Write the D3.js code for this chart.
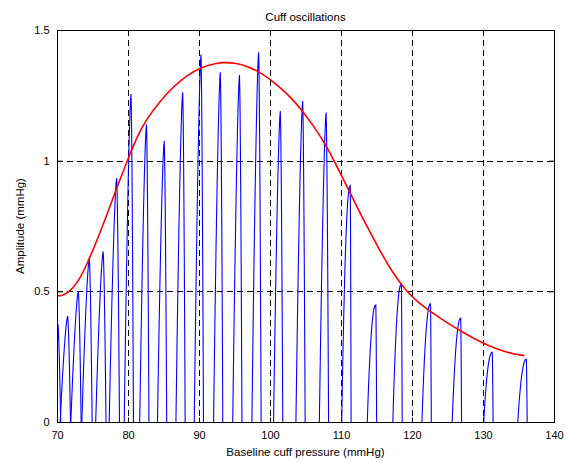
<!DOCTYPE html>
<html>
<head>
<meta charset="utf-8">
<script src="https://cdn.jsdelivr.net/npm/d3@7"></script>
<style>
  body { margin: 0; background: #fff; }
  text { font-family: "Liberation Sans", Arial, sans-serif; }
</style>
</head>
<body>
<div id="chart"></div>
<script>
// pulse peaks (baseline pressure, amplitude)
var pulseX = [70.12, 71.5, 73.0, 74.55, 76.5, 78.4, 80.42, 82.6, 85.1, 87.7, 90.28, 93.0,
              95.7, 98.4, 101.45, 104.6, 107.9, 111.3, 114.9, 118.5, 122.6, 126.86, 131.3, 136.1]
var pulseY = [0.375, 0.405, 0.5, 0.626, 0.652, 0.933, 1.255, 1.139, 1.075, 1.262, 1.406, 1.338,
              1.328, 1.415, 1.19, 1.228, 1.184, 0.904, 0.448, 0.528, 0.452, 0.397, 0.267, 0.24]

// envelope
var envX = [70, 70.6, 71.5, 73.0, 74.41, 75.82, 77.23, 78.63, 79.96, 81.23, 82.63, 84.51, 86.38,
            88.27, 90.14, 92.49, 93.42, 95.0, 96.72, 98.59, 100.0, 102.35, 104.23, 106.1, 107.99,
            109.86, 111.73, 113.62, 115.49, 117.37, 119.25, 121.13, 122.54, 124.89, 127.23,
            129.58, 131.93, 134.27, 135.82]
var envY = [0.483, 0.482, 0.492, 0.535, 0.615, 0.708, 0.808, 0.912, 1.003, 1.09, 1.16, 1.228, 1.283,
            1.326, 1.356, 1.373, 1.376, 1.374, 1.363, 1.338, 1.312, 1.259, 1.203, 1.135, 1.055,
            0.955, 0.852, 0.75, 0.655, 0.567, 0.499, 0.452, 0.424, 0.38, 0.342,
            0.307, 0.278, 0.26, 0.254]

var xTicks = [70, 80, 90, 100, 110, 120, 130, 140]
var yTicks = [0, 0.5, 1, 1.5]

function init() {
    var w = 567
    var h = 463
    var left = 57, right = 554, top = 30, bottom = 422

    var svg = d3.select("#chart")
                .append("svg")
                .attr("width", w)
                .attr("height", h)

    var x = d3.scaleLinear().domain([70, 140]).range([left, right])
    var y = d3.scaleLinear().domain([0, 1.5]).range([bottom, top])

    svg.append("defs").append("clipPath")
        .attr("id", "plot")
        .append("rect")
        .attr("x", left).attr("y", top)
        .attr("width", right - left).attr("height", bottom - top)

    // dashed grid
    var grid = svg.append("g")
    grid.selectAll(".gx")
        .data(xTicks.slice(1, -1))
        .enter()
        .append("line")
        .attr("x1", d => Math.round(x(d)) + 0.5)
        .attr("x2", d => Math.round(x(d)) + 0.5)
        .attr("y1", top).attr("y2", bottom)
        .attr("stroke", "#000")
        .attr("stroke-dasharray", "6,4")
    grid.selectAll(".gy")
        .data(yTicks.slice(1, -1))
        .enter()
        .append("line")
        .attr("y1", d => Math.round(y(d)) + 0.5)
        .attr("y2", d => Math.round(y(d)) + 0.5)
        .attr("x1", left).attr("x2", right)
        .attr("stroke", "#000")
        .attr("stroke-dasharray", "6,4")

    // pulses: slow slope on the left, sharp drop on the right
    var line = d3.line().x(d => x(d[0])).y(d => y(d[1]))
    var pulses = svg.append("g").attr("clip-path", "url(#plot)")
    pulseX.forEach((px, i) => {
        var pk = pulseY[i]
        var late = px > 110
        var early = px < 80
        var wL = late ? 1.2 : (early ? 1.05 : 0.95)
        var wR = late ? 0.12 : (early ? 0.4 : 0.35)
        var p = late ? 2.2 : 1.5
        var pts = [[px - wL - 0.05, -0.1]]
        for (var k = 0; k <= 14; k++) {
            var t = k / 14
            pts.push([px - wL * (1 - t), pk * (1 - Math.pow(1 - t, p))])
        }
        for (var k = 1; k <= 8; k++) {
            var s = k / 8
            pts.push([px + wR * s, pk * (1 - Math.pow(s, 1.6))])
        }
        pts.push([px + wR + 0.02, -0.1])
        pulses.append("path")
            .attr("d", line(pts))
            .attr("fill", "none")
            .attr("stroke", "#0000ff")
            .attr("stroke-width", 1.1)
    })

    // envelope
    svg.append("path")
        .attr("d", d3.line().curve(d3.curveBasis)
            .x((d, i) => x(envX[i])).y(d => y(d))(envY))
        .attr("fill", "none")
        .attr("stroke", "#ff0000")
        .attr("stroke-width", 1.6)

    // frame
    svg.append("rect")
        .attr("x", left + 0.5).attr("y", top + 0.5)
        .attr("width", right - left).attr("height", bottom - top)
        .attr("fill", "none")
        .attr("stroke", "#000")

    // axes with inward ticks
    svg.append("g")
        .attr("transform", `translate(0,${bottom + 0.5})`)
        .call(d3.axisBottom(x).tickValues(xTicks).tickSize(-5).tickPadding(9).tickFormat(d3.format("d")))
        .call(g => g.select(".domain").remove())
    svg.append("g")
        .attr("transform", `translate(0,${top + 0.5})`)
        .call(d3.axisTop(x).tickValues(xTicks).tickSize(-5).tickFormat(""))
        .call(g => g.select(".domain").remove())
    svg.append("g")
        .attr("transform", `translate(${left + 0.5},0)`)
        .call(d3.axisLeft(y).tickValues(yTicks).tickSize(-5).tickPadding(8).tickFormat(d => d))
        .call(g => g.select(".domain").remove())
    svg.append("g")
        .attr("transform", `translate(${right + 0.5},0)`)
        .call(d3.axisRight(y).tickValues(yTicks).tickSize(-5).tickFormat(""))
        .call(g => g.select(".domain").remove())

    svg.selectAll(".tick text")
        .style("font-size", "11px")
        .style("font-family", "Liberation Sans, Arial, sans-serif")
        .attr("fill", "#000")

    svg.append("text")
        .text("Cuff oscillations")
        .attr("x", (left + right) / 2)
        .attr("y", 21)
        .attr("text-anchor", "middle")
        .style("font-size", "11.5px")

    svg.append("text")
        .text("Baseline cuff pressure (mmHg)")
        .attr("x", (left + right) / 2)
        .attr("y", 456)
        .attr("text-anchor", "middle")
        .style("font-size", "11.5px")

    svg.append("text")
        .text("Amplitude (mmHg)")
        .attr("transform", `translate(24,${(top + bottom) / 2}) rotate(-90)`)
        .attr("text-anchor", "middle")
        .style("font-size", "11.5px")
}

window.onload = init;
</script>
</body>
</html>
